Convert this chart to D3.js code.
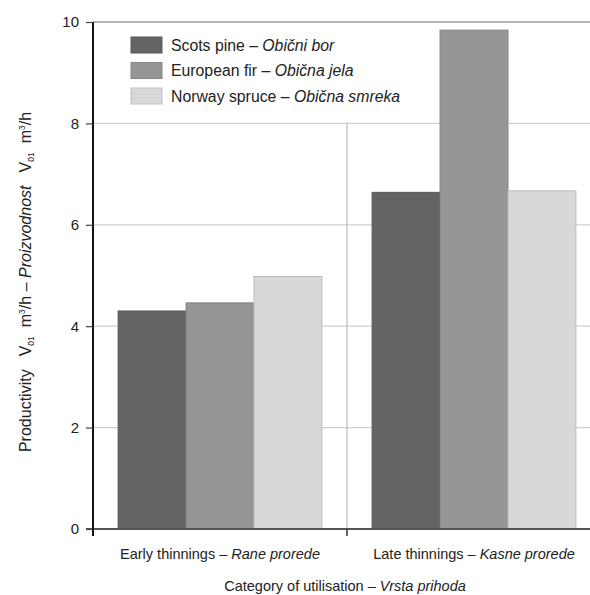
<!DOCTYPE html>
<html><head><meta charset="utf-8">
<script src="https://cdn.jsdelivr.net/npm/d3@7"></script>
<style>body{margin:0;background:#fff;}svg{display:block;font-family:"Liberation Sans",Arial,sans-serif;}</style>
</head><body><svg id="c" width="590" height="595"></svg>
<script>
const categories = ["Early thinnings", "Late thinnings"];
const categoriesLocal = ["Rane prorede", "Kasne prorede"];
const series = ["Scots pine", "European fir", "Norway spruce"];
const seriesLocal = ["Obični bor", "Obična jela", "Obična smreka"];
const scotsPine = [4.30, 6.64];
const europeanFir = [4.46, 9.84];
const norwaySpruce = [4.98, 6.67];
const yTicks = [0, 2, 4, 6, 8, 10];
const colors = ["#646464", "#969696", "#d8d8d8"];

(function () {
const values = [scotsPine, europeanFir, norwaySpruce];
const svg = d3.select("#c");
const pL = 93, pR = 601, pT = 22, pB = 529;

const x0 = d3.scaleBand().domain(categories).range([pL, pR]).padding(0);
const x1 = d3.scaleBand().domain(series).range([0, x0.bandwidth()]).paddingInner(0).paddingOuter(0.37);
const y = d3.scaleLinear().domain([0, 10]).range([pB, pT]);

// gridlines
svg.append("g").selectAll("line").data(yTicks.filter(d => d > 0)).join("line")
  .attr("x1", pL).attr("x2", 590).attr("y1", d => y(d)).attr("y2", d => y(d))
  .attr("stroke", d => d === 10 ? "#b4b4b4" : "#cfcfcf").attr("stroke-width", d => d === 10 ? 2 : 1.2);

// category separator
svg.append("line").attr("x1", x0(categories[1])).attr("x2", x0(categories[1]))
  .attr("y1", y(8)).attr("y2", pB).attr("stroke", "#bdbdbd").attr("stroke-width", 1.2);

// legend background
svg.append("rect").attr("x", pL + 2).attr("y", pT + 3).attr("width", 325).attr("height", 93).attr("fill", "#fff");

// bars
const groups = svg.append("g").selectAll("g").data(categories).join("g")
  .attr("transform", d => `translate(${x0(d)},0)`);
groups.selectAll("rect").data((c, ci) => series.map((s, si) => ({s, si, v: values[si][ci]}))).join("rect")
  .attr("x", d => x1(d.s)).attr("width", x1.bandwidth())
  .attr("y", d => y(d.v)).attr("height", d => y(0) - y(d.v))
  .attr("fill", d => colors[d.si])
  .attr("stroke", d => d3.color(colors[d.si]).darker(0.4)).attr("stroke-width", 1);

// x axis line
svg.append("line").attr("x1", pL - 7).attr("x2", 590).attr("y1", pB).attr("y2", pB)
  .attr("stroke", "#555").attr("stroke-width", 2);
svg.append("line").attr("x1", x0(categories[1])).attr("x2", x0(categories[1]))
  .attr("y1", pB).attr("y2", pB + 7).attr("stroke", "#333").attr("stroke-width", 1.5);

// y axis
const yAxis = svg.append("g").attr("transform", `translate(${pL},0)`)
  .call(d3.axisLeft(y).tickValues(yTicks).tickSize(7).tickPadding(7).tickFormat(d3.format("d")));
yAxis.select(".domain").attr("stroke", "#111").attr("stroke-width", 2).attr("d", `M0,${pT}V${pB + 7}`);
yAxis.selectAll(".tick line").attr("stroke", "#444").attr("stroke-width", 1.2);
yAxis.selectAll(".tick text").attr("font-size", 15).attr("fill", "#222").attr("font-family", "Liberation Sans, Arial, sans-serif");

// category labels
categories.forEach((c, i) => {
  const t = svg.append("text").attr("x", x0(c) + x0.bandwidth() / 2).attr("y", 559)
    .attr("text-anchor", "middle").attr("font-size", 14.5).attr("fill", "#222");
  t.append("tspan").text(c + " – ");
  t.append("tspan").attr("font-style", "italic").text(categoriesLocal[i]);
});

// x title
const xt = svg.append("text").attr("x", 345).attr("y", 591).attr("text-anchor", "middle")
  .attr("font-size", 14.5).attr("fill", "#222");
xt.append("tspan").text("Category of utilisation – ");
xt.append("tspan").attr("font-style", "italic").text("Vrsta prihoda");

// y title
const yt = svg.append("text").attr("transform", "translate(31,282) rotate(-90)").attr("text-anchor", "middle")
  .attr("font-size", 16).attr("fill", "#222");
yt.append("tspan").text("Productivity");
yt.append("tspan").attr("dx", 13).text("V");
yt.append("tspan").attr("font-size", 8.5).attr("dy", 3).text("01");
yt.append("tspan").attr("dy", -3).attr("dx", 9).text("m");
yt.append("tspan").attr("font-size", 8.5).attr("dy", -6).text("3");
yt.append("tspan").attr("dy", 6).text("/h – ");
yt.append("tspan").attr("font-style", "italic").text("Proizvodnost");
yt.append("tspan").attr("dx", 13).text("V");
yt.append("tspan").attr("font-size", 8.5).attr("dy", 3).text("01");
yt.append("tspan").attr("dy", -3).attr("dx", 9).text("m");
yt.append("tspan").attr("font-size", 8.5).attr("dy", -6).text("3");
yt.append("tspan").attr("dy", 6).text("/h");

// legend
const lg = svg.append("g");
series.forEach((s, i) => {
  const yy = 37 + i * 25.5;
  lg.append("rect").attr("x", 131).attr("y", yy).attr("width", 31).attr("height", 16)
    .attr("fill", colors[i]).attr("stroke", d3.color(colors[i]).darker(0.3));
  const t = lg.append("text").attr("x", 171).attr("y", yy + 13.5).attr("font-size", 15.8).attr("fill", "#222");
  t.append("tspan").text(s + " – ");
  t.append("tspan").attr("font-style", "italic").text(seriesLocal[i]);
});
})();
</script></body></html>
